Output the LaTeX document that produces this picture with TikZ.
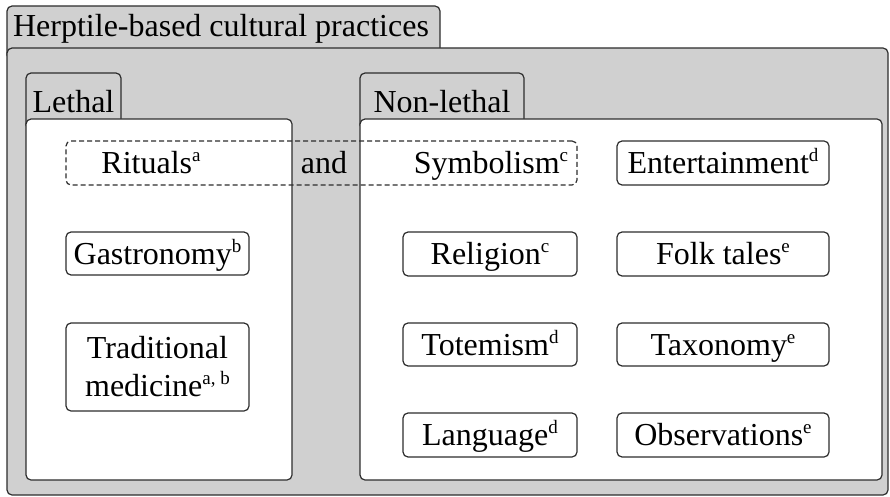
\documentclass[tikz,border=0pt]{standalone}
\usepackage{fontspec}
\setmainfont{Liberation Serif}
\definecolor{bgc}{RGB}{208,208,208}
\definecolor{linec}{RGB}{45,45,45}
\newcommand\mainfs{\fontsize{32pt}{38pt}\selectfont}
\newcommand\sps[1]{\raisebox{12pt}{\fontsize{19pt}{19pt}\selectfont #1}}
\begin{document}
\begin{tikzpicture}[x=1pt,y=-1pt,
  line/.style={draw=linec, line width=1.2pt},
  tabshape/.style={line, fill=bgc, rounded corners=5pt},
  panel/.style={line, rounded corners=5pt, inner sep=0pt},
  box/.style={line, fill=white, rounded corners=5pt, inner sep=0pt,
    text height=21pt, text depth=0pt, font=\mainfs, align=center},
  txt/.style={inner sep=0pt, text height=21pt, text depth=0pt, font=\mainfs},
  lbl/.style={inner sep=0pt, anchor=base, font=\mainfs},
  dashbox/.style={line, dash pattern=on 5pt off 3pt, rounded corners=5pt, inner sep=0pt}
]
\useasboundingbox (0,0) rectangle (890,497);
% title tab and outer panel
\draw[tabshape] (7,6) rectangle (440,60);
\node[panel, fill=bgc, minimum width=881pt, minimum height=447pt] (outer) at (447.5,271.5) {};
\node[lbl] (title) at (221,37) {Herptile-based cultural practices};
% lethal / non-lethal tabs
\draw[tabshape] (26,73) rectangle (121,130);
\draw[tabshape] (360,73) rectangle (524,130);
\node[panel, fill=white, minimum width=266pt, minimum height=361pt] (lethal) at (159,299.5) {};
\node[panel, fill=white, minimum width=522pt, minimum height=361pt] (nonlethal) at (621,299.5) {};
\node[lbl] (lethallbl) at (73.5,113) {Lethal};
\node[lbl] (nonlethallbl) at (442,113) {Non-lethal};
% lethal boxes
\node[box, minimum width=183pt, minimum height=43pt] (gas) at (157.5,253.5) {Gastronomy\sps{b}};
\node[box, text height=59pt, text depth=0pt, minimum width=183pt, minimum height=88pt] (med) at (157.5,367) {Traditional\\ medicine\sps{a, b}};
% non-lethal boxes
\node[box, minimum width=174pt, minimum height=44pt] (rel) at (490,254) {Religion\sps{c}};
\node[box, minimum width=174pt, minimum height=43pt] (tot) at (490,344.5) {Totemism\sps{d}};
\node[box, minimum width=174pt, minimum height=44pt] (lan) at (490,435) {Language\sps{d}};
\node[box, minimum width=212pt, minimum height=44pt] (ent) at (723,163) {Entertainment\sps{d}};
\node[box, minimum width=212pt, minimum height=44pt] (fol) at (723,254) {Folk tales\sps{e}};
\node[box, minimum width=212pt, minimum height=43pt] (tax) at (723,344.5) {Taxonomy\sps{e}};
\node[box, minimum width=212pt, minimum height=44pt] (obs) at (723,435) {Observations\sps{e}};
% shared group
\node[dashbox, minimum width=511pt, minimum height=44pt] (grp) at (321.5,163) {};
\node[txt] (rit) at (151,163) {Rituals\sps{a}};
\node[txt] (and) at (324,163) {and};
\node[txt] (sym) at (491,163) {Symbolism\sps{c}};
\end{tikzpicture}
\end{document}
